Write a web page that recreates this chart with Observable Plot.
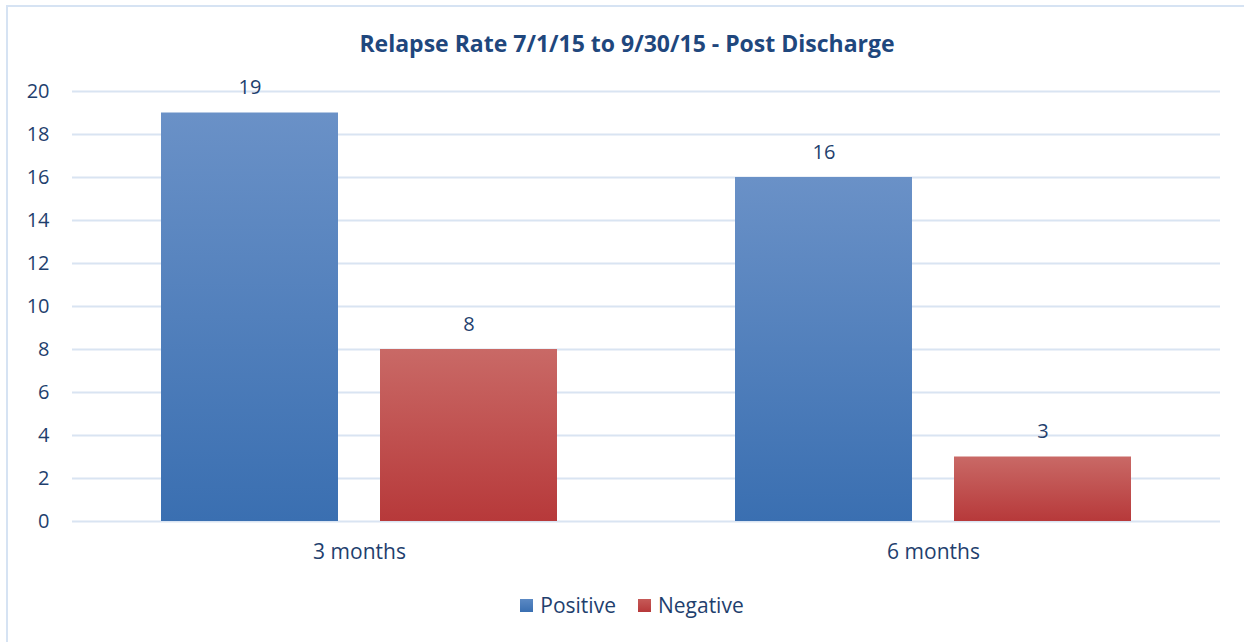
<!DOCTYPE html>
<html>
<head>
<meta charset="utf-8">
<script src="https://cdn.jsdelivr.net/npm/d3@7"></script>
<script src="https://cdn.jsdelivr.net/npm/@observablehq/plot@0.6"></script>
<style>
  html, body { margin: 0; padding: 0; background: #fff; }
  #wrap { position: relative; width: 1244px; height: 642px; overflow: hidden; font-family: "Open Sans", Lato, sans-serif; }
  #border { position: absolute; left: 6px; top: 5px; width: 1300px; height: 700px; border-top: 2px solid #d6e3f3; border-left: 2px solid #d6e3f3; box-sizing: border-box; }
  #title { position: absolute; left: 0; top: 28px; width: 1254px; line-height: 31px; text-align: center; font-weight: bold; font-size: 23px; color: #1f477d; }
  #chart { position: absolute; left: 0; top: 70px; }
  #legend { position: absolute; left: 0; top: 590px; width: 1264px; line-height: 30px; display: flex; justify-content: center; gap: 22px; font-size: 21px; color: #1f3f6e; }
  .item { display: flex; align-items: center; gap: 7px; }
  .sw { width: 13px; height: 13px; display: inline-block; }
</style>
</head>
<body>
<div id="wrap">
  <div id="border"></div>
  <div id="title">Relapse Rate 7/1/15 to 9/30/15 - Post Discharge</div>
  <div id="chart"></div>
  <div id="legend"></div>
</div>
<script>
const categories = ["3 months", "6 months"];
const series = ["Positive", "Negative"];
const positive = [19, 16];
const negative = [8, 3];
const yTicks = [0, 2, 4, 6, 8, 10, 12, 14, 16, 18, 20];
const seriesGradients = {Positive: "url(#gBlue)", Negative: "url(#gRed)"};

const data = [];
categories.forEach((c, i) => {
  data.push({category: c, series: "Positive", value: positive[i]});
  data.push({category: c, series: "Negative", value: negative[i]});
});

const textColor = "#1f3f6e";

const chart = Plot.plot({
  width: 1244,
  height: 500,
  marginLeft: 71,
  marginRight: 24,
  marginTop: 21,
  marginBottom: 49,
  style: {fontFamily: "'Open Sans', Lato, sans-serif", fontSize: "20px", color: textColor, background: "transparent"},
  fx: {domain: categories, padding: 0, label: null},
  x: {domain: series, paddingInner: 0.19, paddingOuter: 0.4, axis: null},
  y: {domain: [0, 20], label: null},
  marks: [
    Plot.ruleY(yTicks, {stroke: "#d9e4f2", strokeWidth: 2}),
    Plot.barY(data.filter(d => d.series === "Positive"), {fx: "category", x: "series", y: "value", fill: seriesGradients.Positive}),
    Plot.barY(data.filter(d => d.series === "Negative"), {fx: "category", x: "series", y: "value", fill: seriesGradients.Negative}),
    Plot.text(data, {fx: "category", x: "series", y: "value", text: d => String(d.value), dy: -25, fill: textColor, fontSize: 20}),
    Plot.axisY(yTicks, {tickSize: 0, tickPadding: 23, fontSize: 20, label: null, fill: textColor}),
    Plot.axisFx({anchor: "bottom", tickSize: 0, tickPadding: 23, fontSize: 21, label: null, fill: textColor})
  ]
});

const defs = d3.create("svg:defs");
function grad(id, top, bottom) {
  const g = defs.append("linearGradient").attr("id", id).attr("x1", 0).attr("y1", 0).attr("x2", 0).attr("y2", 1);
  g.append("stop").attr("offset", "0%").attr("stop-color", top);
  g.append("stop").attr("offset", "100%").attr("stop-color", bottom);
}
grad("gBlue", "#6a91c7", "#3a6fb1");
grad("gRed", "#c96966", "#b7393a");
chart.insertBefore(defs.node(), chart.firstChild);
document.getElementById("chart").appendChild(chart);

const legend = document.getElementById("legend");
const legendColors = {Positive: "linear-gradient(#5b89c4,#3a6fb1)", Negative: "linear-gradient(#c65a58,#b7393a)"};
series.forEach(s => {
  const item = document.createElement("span");
  item.className = "item";
  const sw = document.createElement("span");
  sw.className = "sw";
  sw.style.background = legendColors[s];
  const t = document.createElement("span");
  t.textContent = s;
  item.appendChild(sw);
  item.appendChild(t);
  legend.appendChild(item);
});
</script>
</body>
</html>
